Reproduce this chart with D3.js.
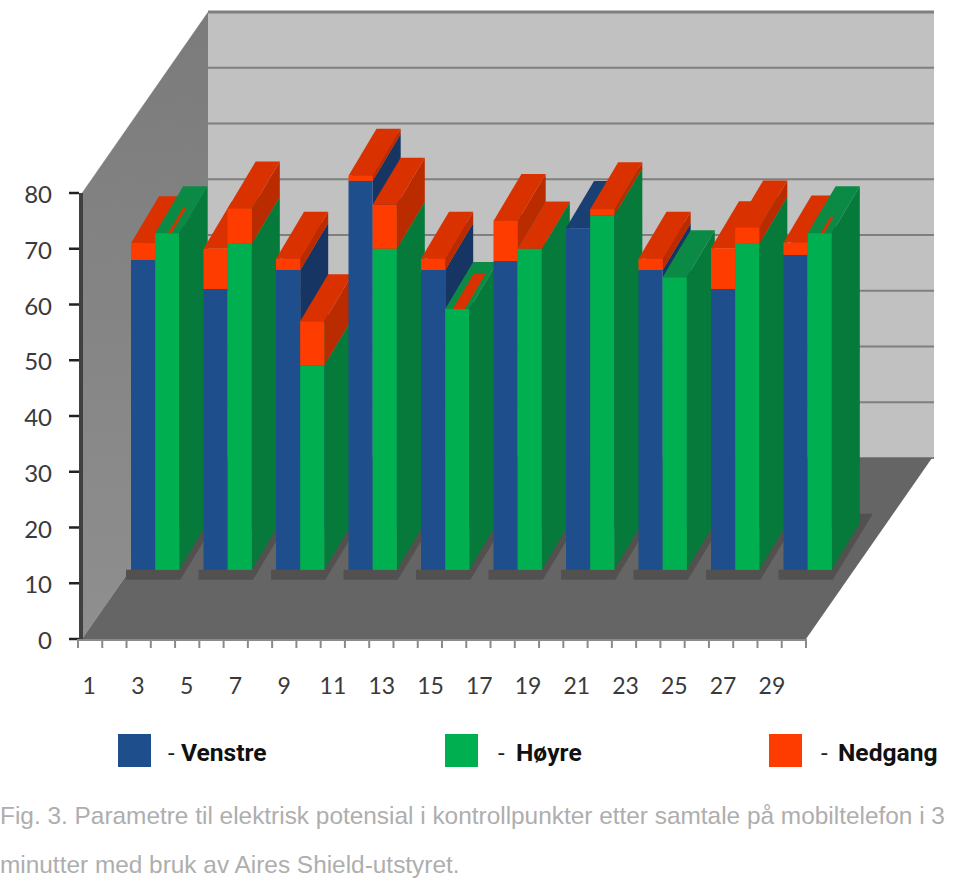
<!DOCTYPE html>
<html><head><meta charset="utf-8">
<style>html,body{margin:0;padding:0;background:#fff}svg{display:block}</style>
<script src="https://cdn.jsdelivr.net/npm/d3@7"></script></head>
<body><svg id="c" width="960" height="882"></svg>
<script>
const categories = d3.range(1, 31);
const yTicks = [0,10,20,30,40,50,60,70,80];
const venstre = [68,62.8,66.2,82.2,66.2,67.8,73.7,66.2,62.8,68.9];
const venstreNedgang = [3,7.2,2,0.9,2,7.2,0,2,7.3,2.2];
const hoyre = [72.8,70.9,49.1,70,59.2,70,76,64.9,70.9,72.8];
const hoyreNedgang = [0,6.3,7.9,7.9,0,0,1.1,0,2.9,0];
const streakWidth = [0.14,0,0,0,0.5,1,0,0,0,0.14];
const streakLength = [0.55,0,0,0,0.75,1,0,0,0,0.35];
const legendItems = [["Venstre","#1f4e8c"],["Høyre","#00b050"],["Nedgang","#ff3c00"]];
const captionLines = ["Fig. 3. Parametre til elektrisk potensial i kontrollpunkter etter samtale på mobiltelefon i 3","minutter med bruk av Aires Shield-utstyret."];
const baseValue = 12.4;

const svg = d3.select("#c");
const y = d3.scaleLinear().domain([0,80]).range([639,193]);
const x = d3.scaleBand().domain(categories).range([78,806]);
const xBar = d3.scaleBand().domain(categories).range([78,803]);
const wall = {dx:126, dy:-181}, inset = {dx:53}, depth = {dx:28, dy:-47};
const left = 82, right = 806, y0 = y(0), y80 = y(80);
const pts = a => a.map(p => p.join(",")).join(" ");
const poly = (g, a, fill) => g.append("polygon").attr("points", pts(a)).attr("fill", fill);

const defs = svg.append("defs");
const lg = defs.append("linearGradient").attr("id","side").attr("x1",0).attr("y1",0).attr("x2",0).attr("y2",1);
lg.append("stop").attr("offset",0).attr("stop-color","#7b7b7b");
lg.append("stop").attr("offset",1).attr("stop-color","#8f8f8f");

const bg = svg.append("g");
poly(bg, [[left+wall.dx,y80+wall.dy],[right+wall.dx+2,y80+wall.dy],[right+wall.dx+2,y0+wall.dy],[left+wall.dx,y0+wall.dy]], "#c1c1c1");
poly(bg, [[left,y80],[left+wall.dx,y80+wall.dy],[left+wall.dx,y0+wall.dy],[left,y0]], "url(#side)");
yTicks.forEach(v => {
  bg.append("line").attr("x1",left+wall.dx).attr("x2",right+wall.dx+2).attr("y1",y(v)+wall.dy).attr("y2",y(v)+wall.dy)
    .attr("stroke","#7f7f7f").attr("stroke-width",v===80?3:2);
  bg.append("line").attr("x1",left).attr("x2",left+wall.dx).attr("y1",y(v)).attr("y2",y(v)+wall.dy)
    .attr("stroke","#8d8d8d").attr("stroke-width",1).attr("opacity",0.25);
});
poly(bg, [[left,y0],[right,y0],[right+wall.dx,y0+wall.dy],[left+wall.dx,y0+wall.dy]], "#656565");

const yb = y(baseValue);
const marks = svg.append("g");
function box(xl, w, vLo, vHi, front, side, top) {
  const yl = y(vLo), yh = y(vHi);
  poly(marks, [[xl+w,yl],[xl+w+depth.dx,yl+depth.dy],[xl+w+depth.dx,yh+depth.dy],[xl+w,yh]], side);
  poly(marks, [[xl,yh],[xl+w,yh],[xl+w+depth.dx,yh+depth.dy],[xl+depth.dx,yh+depth.dy]], top);
  marks.append("rect").attr("x",xl).attr("y",yh).attr("width",w).attr("height",Math.max(0,yl-yh)).attr("fill",front);
}
const w = xBar.bandwidth();
// shadows under the bars
venstre.forEach((_, i) => {
  const xl = xBar(categories[i*3]) + inset.dx, xr = xBar(categories[i*3+1]) + inset.dx + w;
  poly(marks, [[xl-5,yb],[xl-5,yb+10],[xr+1,yb+10],[xr+depth.dx+13,yb+depth.dy-9],[xr+depth.dx,yb+depth.dy-9],[xr,yb]], "#535050");
});
venstre.forEach((v, i) => {
  const xb = xBar(categories[i*3]) + inset.dx, xg = xBar(categories[i*3+1]) + inset.dx;
  const rb = venstreNedgang[i], rg = hoyreNedgang[i];
  box(xb, w, baseValue, v, "#1f4e8c", "#173563", rb>0 ? "#d93200" : "#1a3f73");
  if (rb>0) box(xb, w, v, v+rb, "#ff3c00", "#bb2b00", "#d93200");
  box(xg, w, baseValue, hoyre[i], "#00b050", "#067a3a", "#0b8a45");
  if (rg>0) box(xg, w, hoyre[i], hoyre[i]+rg, "#ff3c00", "#bb2b00", "#d93200");
  if (streakWidth[i]>0) {
    const sw = w*streakWidth[i], len = streakLength[i], yt = y(hoyre[i]);
    const sx = xg + (w-sw)*(streakWidth[i]===1?0:0.62);
    poly(marks, [[sx,yt],[sx+sw,yt],[sx+sw+depth.dx*len,yt+depth.dy*len],[sx+depth.dx*len,yt+depth.dy*len]], "#d93200");
  }
});

// y axis
const axisY = svg.append("g");
axisY.append("line").attr("x1",81).attr("x2",81).attr("y1",y80).attr("y2",y0+1).attr("stroke","#404040").attr("stroke-width",4);
const yT = axisY.selectAll("g").data(yTicks).join("g").attr("transform",d=>`translate(0,${y(d)})`);
yT.append("line").attr("x1",69).attr("x2",79).attr("stroke","#222").attr("stroke-width",2.5);
yT.append("text").attr("x",52).attr("y",4).attr("text-anchor","end").attr("dominant-baseline","middle")
  .attr("font-family","Lato, sans-serif").attr("font-size",24).attr("fill","#3a3a3a").text(d=>d);

// x axis
const axisX = svg.append("g");
axisX.append("line").attr("x1",78).attr("x2",806).attr("y1",y0+1).attr("y2",y0+1).attr("stroke","#8a8a8a").attr("stroke-width",2);
axisX.selectAll("line.t").data(categories.concat([null])).join("line").attr("class","t")
  .attr("x1",d=>d===null?x.range()[1]:x(d)).attr("x2",d=>d===null?x.range()[1]:x(d))
  .attr("y1",y0).attr("y2",y0+9).attr("stroke","#8a8a8a").attr("stroke-width",2);
axisX.selectAll("text").data(categories.filter(d=>d%2===1)).join("text")
  .attr("x",d=>x(d)+w/2-1+(d-1)*0.12).attr("y",694).attr("text-anchor","middle")
  .attr("font-family","Lato, sans-serif").attr("font-size",23).attr("fill","#3a3a3a").text(d=>d);

// legend
const legX = [118,445,769], legDash=[168,498,821], legTx=[181,516,838];
legendItems.forEach(([t,c],i)=>{
  svg.append("rect").attr("x",legX[i]).attr("y",734).attr("width",33).attr("height",33).attr("fill",c);
  svg.append("text").attr("x",legDash[i]).attr("y",761).attr("font-family","Roboto, sans-serif").attr("font-size",24).attr("fill","#222").text("-");
  svg.append("text").attr("x",legTx[i]).attr("y",761).attr("font-family","Roboto, sans-serif").attr("font-weight",700).attr("font-size",24.6).attr("fill","#111").text(t);
});

// caption
captionLines.forEach((t,i)=>{
  svg.append("text").attr("x",0).attr("y",[824,873][i]).attr("font-family","'Liberation Sans', Arial, sans-serif")
    .attr("font-size",24.4).attr("fill","#aeaeae").text(t);
});
</script></body></html>
